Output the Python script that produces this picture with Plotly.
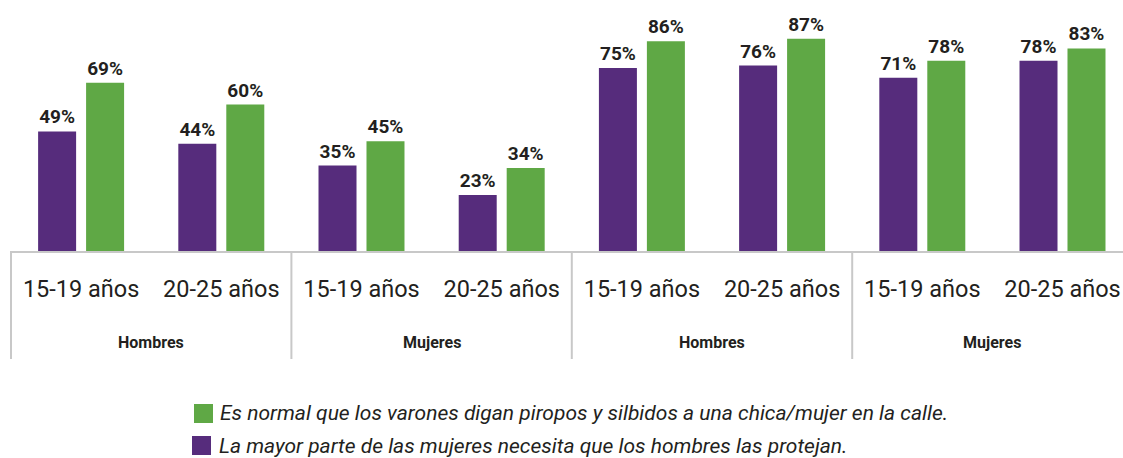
import plotly.graph_objects as go

# Survey results: share agreeing with each statement, by sex and age group
groups = ["Hombres", "Mujeres", "Hombres", "Mujeres"]
ages = ["15-19 años", "20-25 años"] * 4
protejan = [49, 44, 35, 23, 75, 76, 71, 78]   # purple series
piropos = [69, 60, 45, 34, 86, 87, 78, 83]    # green series

legend_labels = [
    "Es normal que los varones digan piropos y silbidos a una chica/mujer en la calle.",
    "La mayor parte de las mujeres necesita que los hombres las protejan.",
]

PURPLE = "#562C7C"
GREEN = "#5FA845"
TEXT = "#231F20"
RULE = "#C8C8C8"

W, H = 1123, 458
ML, MB = 11, 207
PLOT_W = W - ML
PLOT_H = H - MB
CAT_PX = 140.2                      # pixel width of one age category
PX_PER_PCT = 2.44

x_pos = list(range(len(ages)))
x_lo = -0.5
x_hi = x_lo + PLOT_W / CAT_PX


def px_to_paper_x(px):
    return (px - ML) / PLOT_W


def px_to_paper_y(py):
    return (PLOT_H - py) / PLOT_H


def data_to_paper_x(xv):
    return (xv - x_lo) / (x_hi - x_lo)


fig = go.Figure()
for vals, color in ((protejan, PURPLE), (piropos, GREEN)):
    fig.add_trace(go.Bar(
        x=x_pos, y=vals, marker=dict(color=color, line=dict(width=0)),
        texttemplate="%{y}%", textposition="outside", cliponaxis=False,
        constraintext="none",
        textfont=dict(family="Roboto", size=19, color=TEXT, weight="bold"),
        showlegend=False, hoverinfo="skip",
    ))

shapes = []
# vertical dividers between the four sex panels
for b in (-0.5, 1.5, 3.5, 5.5):
    xp = data_to_paper_x(b)
    shapes.append(dict(type="line", xref="paper", yref="paper",
                       x0=xp, x1=xp, y0=0, y1=px_to_paper_y(359),
                       line=dict(color=RULE, width=2)))

annotations = []
# sex labels under each pair of age categories
for i, g in enumerate(groups):
    annotations.append(dict(
        x=2 * i + 0.5, xref="x", y=px_to_paper_y(342), yref="paper",
        text=g, showarrow=False, xanchor="center", yanchor="middle",
        font=dict(family="Roboto", size=16, color=TEXT, weight="bold"),
    ))

# custom legend: coloured squares with italic captions
legend_rows = [
    (GREEN, 194, 404, 218, 413.5, legend_labels[0]),
    (PURPLE, 192, 436, 217, 445.5, legend_labels[1]),
]
for color, sx, sy, tx, ty, label in legend_rows:
    shapes.append(dict(type="rect", xref="paper", yref="paper",
                       x0=px_to_paper_x(sx), x1=px_to_paper_x(sx + 19),
                       y0=px_to_paper_y(sy), y1=px_to_paper_y(sy + 19),
                       fillcolor=color, line=dict(width=0)))
    annotations.append(dict(
        x=px_to_paper_x(tx), xref="paper", y=px_to_paper_y(ty), yref="paper",
        text=label, showarrow=False, xanchor="left", yanchor="middle",
        font=dict(family="Roboto", size=21, color=TEXT, style="italic"),
    ))

fig.update_layout(
    width=W, height=H,
    margin=dict(l=ML, r=0, t=0, b=MB),
    plot_bgcolor="white", paper_bgcolor="white",
    barmode="group", bargap=0.3155, bargroupgap=0.208,
    xaxis=dict(range=[x_lo, x_hi], tickmode="array", tickvals=x_pos,
               ticktext=ages, showgrid=False, zeroline=False,
               showline=True, linecolor=RULE, linewidth=2,
               ticks="outside", ticklen=16, tickcolor="rgba(0,0,0,0)",
               tickfont=dict(family="Roboto", size=23.5, color=TEXT)),
    yaxis=dict(range=[0, PLOT_H / PX_PER_PCT], visible=False,
               showgrid=False, zeroline=False),
    shapes=shapes, annotations=annotations,
)

fig.write_html("out.html")
